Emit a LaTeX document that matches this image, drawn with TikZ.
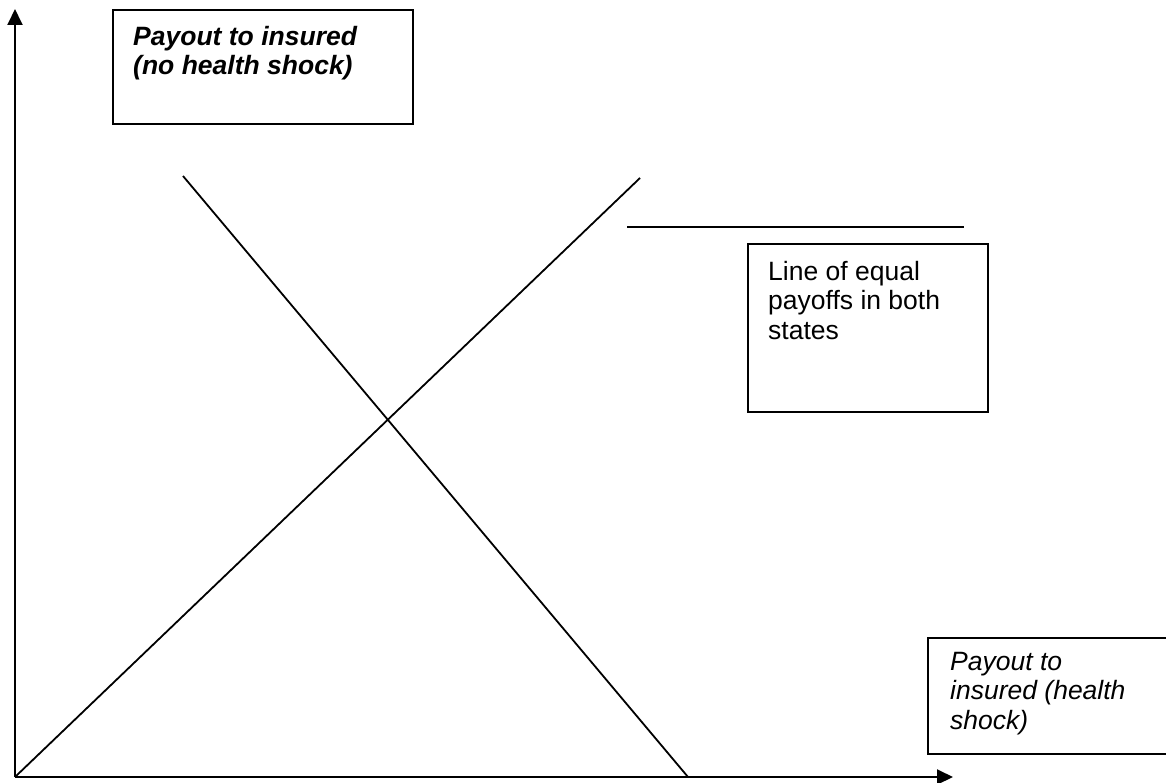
\documentclass[tikz,border=0pt]{standalone}
\usepackage{fontspec}
\setmainfont{Liberation Sans}
\usetikzlibrary{arrows.meta}
\begin{document}
\begin{tikzpicture}[x=1pt,y=-1pt,
  axis/.style={line width=1.9pt,-{Triangle[length=16pt,width=15pt]}},
  curve/.style={line width=1.8pt},
  labelbox/.style={draw,line width=1.8pt,rectangle,inner sep=0pt,anchor=north west},
  boxtext/.style={inner sep=0pt,anchor=north west,align=left,
    font=\fontsize{26.5}{29.5}\selectfont}]
  \useasboundingbox (0,0) rectangle (1166,783);
  \clip (0,0) rectangle (1166,783);
  \fill[white] (0,0) rectangle (1166,783);

  % axes
  \coordinate (O) at (15,777);
  \coordinate (ytip) at (15,9);
  \coordinate (xtip) at (953,777);
  \draw[axis] (O) -- (ytip);
  \draw[axis] (O) -- (xtip);

  % line of equal payoffs and the falling line
  \coordinate (eqtop) at (640,178);
  \coordinate (fallstart) at (183,176);
  \coordinate (fallend) at (688,777);
  \draw[curve] (O) -- (eqtop);
  \draw[curve] (fallstart) -- (fallend);

  % pointer line above the caption box
  \coordinate (hl) at (627,227);
  \coordinate (hr) at (964,227);
  \draw[curve] (hl) -- (hr);

  % vertical axis caption
  \node[labelbox,minimum width=300pt,minimum height=114pt] (ybox) at (112,9) {};
  \node[boxtext,font=\fontsize{26.5}{29.5}\selectfont\bfseries\itshape] (ytext) at (133,26)
    {Payout to insured\\(no health shock)};

  % caption of the rising line
  \node[labelbox,minimum width=240pt,minimum height=168pt] (eqbox) at (747,243) {};
  \node[boxtext] (eqtext) at (768,261)
    {Line of equal\\payoffs in both\\states};

  % horizontal axis caption
  \node[labelbox,minimum width=250pt,minimum height=116pt] (xbox) at (927,637) {};
  \node[boxtext,font=\fontsize{26.5}{29.5}\selectfont\itshape] (xtext) at (950,652)
    {Payout to\\insured (health\\shock)};
\end{tikzpicture}
\end{document}
